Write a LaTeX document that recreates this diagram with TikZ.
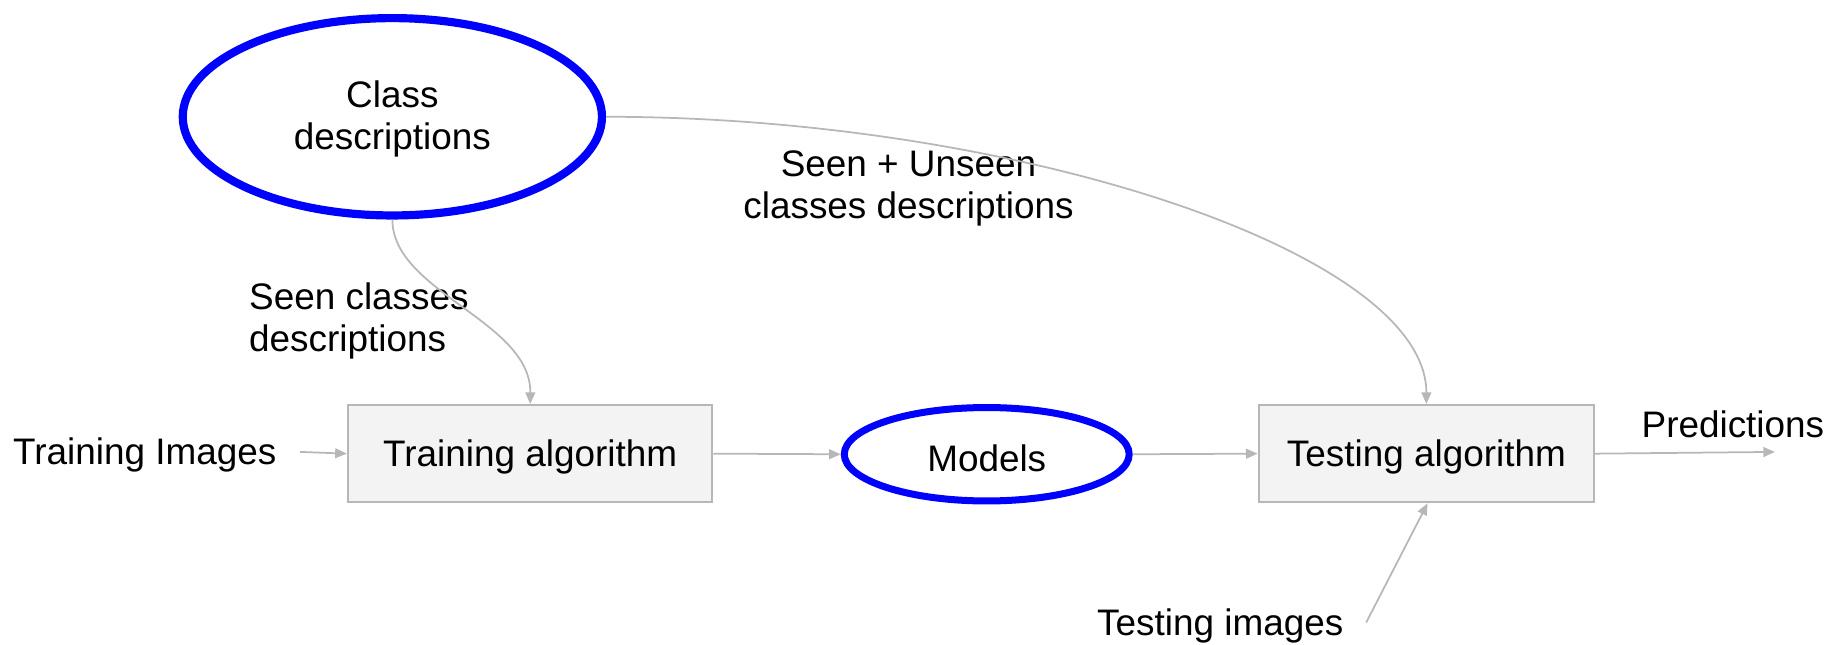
\documentclass[tikz,border=0pt]{standalone}
\usepackage{fontspec}
\setmainfont{Liberation Sans}
\usetikzlibrary{shapes.geometric,arrows.meta}
\definecolor{linegrey}{HTML}{B7B7B7}
\definecolor{boxfill}{HTML}{F3F3F3}
\definecolor{ovalblue}{HTML}{0000FF}
\newcommand{\lowertext}[1]{\raisebox{-1.6pt}[\height][\depth]{#1}}
\tikzset{
  txt/.style={font=\fontsize{15.8}{18}\selectfont, inner sep=0pt, align=center},
  algbox/.style={txt, draw=linegrey, fill=boxfill, line width=1pt, rectangle, minimum height=41.5pt},
  oval/.style={txt, draw=ovalblue, ellipse, inner sep=0pt},
  conn/.style={draw=linegrey, line width=0.75pt, -{Triangle[length=5pt,width=4.2pt]}},
}
\begin{document}
\begin{tikzpicture}[x=0.5pt,y=-0.5pt]
\useasboundingbox (0,0) rectangle (1568,551.5);
% nodes
\node[oval, line width=3.5pt, minimum width=179.5pt, minimum height=84.5pt] (cd) at (336,100)
  {\lowertext{\begin{tabular}{@{}c@{}}Class\\descriptions\end{tabular}}};
\node[algbox, minimum width=156pt] (ta) at (454,388.5) {\lowertext{Training algorithm}};
\node[oval, line width=3pt, minimum width=122pt, minimum height=40pt] (mo) at (845,389) {\lowertext{Models}};
\node[algbox, minimum width=143.5pt] (te) at (1221.5,388.5) {\lowertext{Testing algorithm}};
\node[txt] (ti) at (124,390) {Training Images};
\node[txt] (pr) at (1484,363) {Predictions};
\node[txt] (tei) at (1045,536) {Testing images};
\node[txt, align=left, anchor=west] (scd) at (213,275) {Seen classes\\descriptions};
\node[txt] (sud) at (778,161) {Seen + Unseen\\classes descriptions};
\coordinate (tiend) at (257,387);
\coordinate (prend) at (1520,387);
\coordinate (teistart) at (1170,533);
% connectors
\draw[conn] (tiend) -- (ta.west);
\draw[conn] (ta.east) -- (mo.west);
\draw[conn] (mo.east) -- (te.west);
\draw[conn] (te.east) -- (prend);
\draw[conn] (teistart) -- ([xshift=0.5]te.south);
\draw[conn] (cd.south) .. controls (336,250) and (455,275) .. (ta.north);
\draw[conn] (cd.east) .. controls (869,100) and (1221.5,216) .. (te.north);
\end{tikzpicture}
\end{document}
